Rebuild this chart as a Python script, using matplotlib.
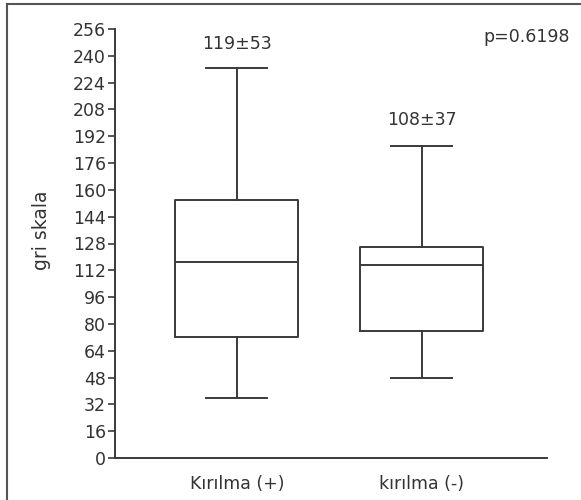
import matplotlib.pyplot as plt
from matplotlib.lines import Line2D

# values
groups = ["Kırılma (+)", "kırılma (-)"]
whisker_low = [36, 48]
q1 = [72, 76]
median = [117, 115]
q3 = [154, 126]
whisker_high = [233, 186]
mean_sd = ["119±53", "108±37"]
p_text = "p=0.6198"
yticks = list(range(0, 257, 16))

plt.rcParams['font.family'] = ['DejaVu Sans']
line_col = '#3a3a3a'
text_col = '#333333'
fs = 12.5

fig = plt.figure(figsize=(5.81, 5.00), dpi=100)
ax = fig.add_axes([0.198, 0.084, 0.7435, 0.858])

stats = []
for i, name in enumerate(groups):
    stats.append(dict(label=name, whislo=whisker_low[i], q1=q1[i], med=median[i],
                      q3=q3[i], whishi=whisker_high[i], fliers=[]))

positions = [1, 2]
lp = dict(color=line_col, linewidth=1.4)
ax.bxp(stats, positions=positions, widths=0.665, capwidths=0.33,
       boxprops=lp, whiskerprops=lp, capprops=lp,
       medianprops=lp, showfliers=False)

ax.set_xlim(0.341, 2.676)
ax.set_ylim(0, 256)
ax.set_yticks(yticks)
ax.set_yticklabels([str(t) for t in yticks], fontsize=fs, color=text_col)
ax.set_xticks(positions)
ax.set_xticklabels(groups, fontsize=fs, color=text_col)
ax.tick_params(axis='y', direction='out', length=5, width=1.2, colors=line_col,
               labelcolor=text_col, pad=1.5)
ax.tick_params(axis='x', length=0, pad=12)
ax.set_ylabel("gri skala", fontsize=13.5, color=text_col)
# label sits at about x=42, y=230 px in the figure
ax.yaxis.set_label_coords(51 / 581, 1 - 230 / 500, transform=fig.transFigure)

for s in ['top', 'right']:
    ax.spines[s].set_visible(False)
for s in ['left', 'bottom']:
    ax.spines[s].set_color(line_col)
    ax.spines[s].set_linewidth(1.4)

offsets = [24, 26]
for i, txt in enumerate(mean_sd):
    ax.annotate(txt, (positions[i], whisker_high[i]), xytext=(0, offsets[i]),
                textcoords='offset pixels', ha='center', va='center',
                fontsize=fs, color=text_col)
fig.text(570 / 581, 1 - 37 / 500, p_text, ha='right', va='center',
         fontsize=fs, color=text_col)

# frame lines of the original figure (left and top edges)
fig.add_artist(Line2D([7 / 581, 7 / 581], [0, 1 - 4 / 500], transform=fig.transFigure,
                      color='#555555', linewidth=1.5))
fig.add_artist(Line2D([7 / 581, 1], [1 - 4 / 500, 1 - 4 / 500], transform=fig.transFigure,
                      color='#555555', linewidth=1.5))

fig.savefig("out.png", dpi=100)
